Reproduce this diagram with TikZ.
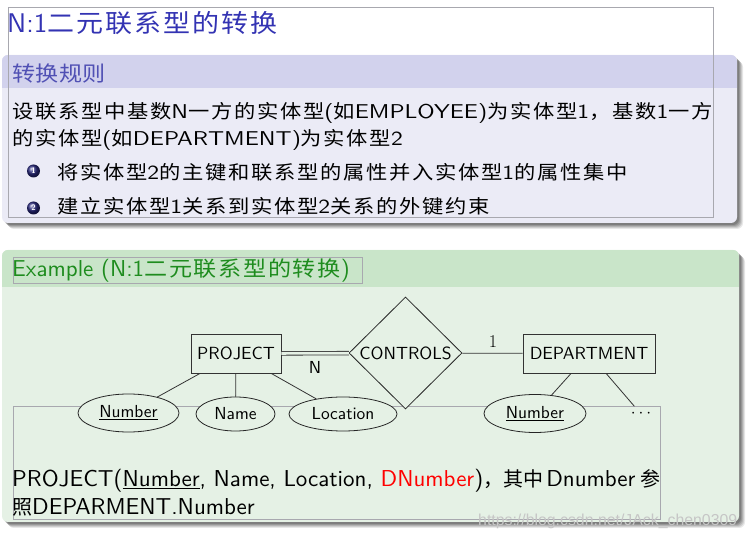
\documentclass[tikz,border=0pt]{standalone}
\usepackage{fontspec}
\usepackage{graphicx}
\usetikzlibrary{shapes.geometric,calc}
\setsansfont{lmsans10-regular.otf}[BoldFont=lmsans10-bold.otf, ItalicFont=lmsans10-oblique.otf]
\newfontfamily\bodylat{lmsans10-regular.otf}[FakeStretch=1.18]
\newfontfamily\zhsp[FakeStretch=1.12, LetterSpace=9]{Noto Sans CJK SC}
\newfontfamily\zhtitle[FakeStretch=1.08, LetterSpace=8]{Noto Sans CJK SC}
\newfontfamily\zhhd[FakeStretch=1.1, LetterSpace=2]{Noto Sans CJK SC}
\newfontfamily\zhex[FakeStretch=1.1, LetterSpace=8]{Noto Sans CJK SC}
\newfontfamily\zhn{Noto Sans CJK SC}
\newfontfamily\wmfont{Liberation Sans}
\newcommand\myfs[1]{\fontsize{#1}{#1}\selectfont}
\newcommand\zb[1]{{\zhsp\myfs{19}#1}}
\newcommand\zn[1]{{\zhn\myfs{20}#1}}
\definecolor{titleblue}{RGB}{51,51,179}
\definecolor{hdrblue}{RGB}{80,80,180}
\definecolor{blkbluehd}{RGB}{210,210,237}
\definecolor{blkbluebg}{RGB}{235,235,246}
\definecolor{blkgreenhd}{RGB}{201,229,201}
\definecolor{blkgreenbg}{RGB}{229,241,229}
\definecolor{exgreen}{RGB}{30,140,30}
\definecolor{framegray}{RGB}{168,168,175}
\definecolor{ballblue}{RGB}{40,40,125}
\tikzset{
  gframe/.style={draw=framegray, line width=0.6pt},
  entity/.style={draw=black!80, line width=0.9pt, rectangle, minimum width=90pt, minimum height=39pt, inner sep=0pt, fill=blkgreenbg, font=\sffamily\myfs{17.6}},
  rel/.style={draw=black!85, line width=0.8pt, diamond, minimum width=113pt, minimum height=112pt, inner sep=0pt, fill=blkgreenbg, font=\sffamily\myfs{17.6}},
  attr/.style={draw=black!85, line width=0.8pt, ellipse, inner sep=0pt, fill=blkgreenbg, font=\sffamily\myfs{17.4}},
  conn/.style={draw=black!80, line width=0.8pt},
  txt/.style={anchor=base west, inner sep=0pt, font=\sffamily},
  bodytxt/.style={anchor=base west, inner sep=0pt, font=\bodylat\myfs{20}, text=black},
  ballnum/.style={circle, ball color=ballblue, minimum size=13pt, inner sep=0pt, text=white, font=\sffamily\bfseries\myfs{8}},
}
\begin{document}
\begin{tikzpicture}[x=1pt,y=-1pt]
\useasboundingbox (0,0) rectangle (748,534);
\fill[white] (0,0) rectangle (748,534);

% title
\node[txt, text=titleblue] (title) at (7,33) {\myfs{27}N:1\zhtitle\myfs{25}二元联系型的转换};

% blue block
\foreach \d/\o in {6/0.09,5/0.11,4/0.13,3/0.15,2/0.17}
  \fill[black, opacity=\o, rounded corners=6pt] (2+\d,55+\d) rectangle (737+\d,223+\d);
\fill[blkbluebg, rounded corners=6pt] (2,55) rectangle (737,223);
\begin{scope}
  \clip[rounded corners=6pt] (2,55) rectangle (737,223);
  \fill[blkbluehd] (2,55) rectangle (737,88);
\end{scope}
\draw[gframe] (8,7) rectangle (713,217);
\node[txt, text=hdrblue] (rulehd) at (12,82) {\zhhd\myfs{21}转换规则};
\node[bodytxt] (l1) at (12,119) {\zb{设联系型中基数}N\zb{一方的实体型}(\zb{如}EMPLOYEE)\zb{为实体型}1\zb{，基数}1\zb{一方}};
\node[bodytxt] (l2) at (12,146) {\zb{的实体型}(\zb{如}DEPARTMENT)\zb{为实体型}2};
\node[ballnum] (b1) at (33.5,171) {1};
\node[ballnum] (b2) at (33.5,208) {2};
\node[bodytxt] (i1) at (57,180) {\zb{将实体型}2\zb{的主键和联系型的属性并入实体型}1\zb{的属性集中}};
\node[bodytxt] (i2) at (57,214) {\zb{建立实体型}1\zb{关系到实体型}2\zb{关系的外键约束}};

% green block
\foreach \d/\o in {6/0.09,5/0.11,4/0.13,3/0.15,2/0.17}
  \fill[black, opacity=\o, rounded corners=6pt] (2+\d,250+\d) rectangle (739+\d,522+\d);
\fill[blkgreenbg, rounded corners=6pt] (2,250) rectangle (739,522);
\begin{scope}
  \clip[rounded corners=6pt] (2,250) rectangle (739,522);
  \fill[blkgreenhd] (2,250) rectangle (739,287);
\end{scope}
\draw[gframe] (13,257) rectangle (362,283);
\node[txt, text=exgreen] (exhd) at (12,277) {\myfs{23}Example (N:1{\zhex\myfs{21}二元联系型的转换})};
\draw[gframe] (13,406) rectangle (660,519);

% ER diagram
\node[entity] (project) at (236,353.5) {PROJECT};
\node[rel] (controls) at (405.5,353) {CONTROLS};
\node[entity, minimum width=132pt] (dept) at (589,353.5) {DEPARTMENT};
\node[attr, minimum width=101pt, minimum height=38pt] (num1) at (128.5,413) {\underline{Number}};
\node[attr, minimum width=79pt, minimum height=34pt] (name) at (235.5,414) {Name};
\node[attr, minimum width=108pt, minimum height=34pt] (loc) at (343,414) {Location};
\node[attr, minimum width=102pt, minimum height=38pt] (num2) at (535,413.5) {\underline{Number}};
\node[inner sep=0pt, minimum width=22pt, minimum height=15pt, font=\myfs{17}] (more) at (641,414) {$\cdots$};

\draw[conn, double=blkgreenbg, double distance=2.8pt] (project) -- (controls);
\draw[conn] (controls) -- (dept);
\draw[conn] (project) -- (num1);
\draw[conn] (project) -- (name);
\draw[conn] (project) -- (loc);
\draw[conn] (dept) -- (num2);
\draw[conn] (dept) -- (more);
\node[font=\sffamily\myfs{17.4}, inner sep=0pt] (nlab) at (315,367) {N};
\node[font=\rmfamily\myfs{18}, inner sep=0pt] (onelab) at (493,342) {1};

% bottom text
\node[txt, text=black] (r1) at (12,487) {\myfs{23}PROJECT(\underline{Number}, Name, Location, \textcolor{red}{DNumber})\zn{，其中}\hspace{3pt}Dnumber\hspace{5pt}\zn{参}};
\node[txt, text=black] (r2) at (12,515) {\myfs{23}\zn{照}DEPARMENT.Number};

% watermark
\node[anchor=base west, inner sep=0pt, text=gray!45] (wm) at (478,526) {\resizebox{259pt}{!}{\wmfont https://blog.csdn.net/JAck\_chen0309}};
\end{tikzpicture}
\end{document}
